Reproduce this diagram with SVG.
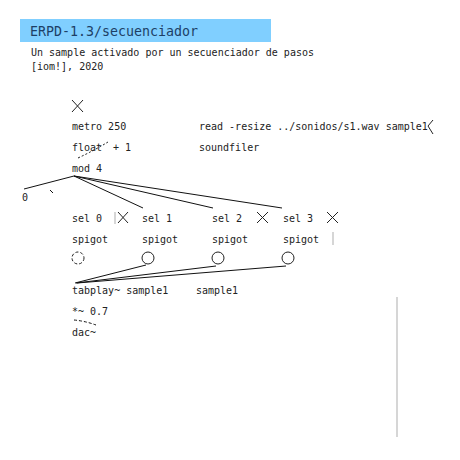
<svg xmlns="http://www.w3.org/2000/svg" width="460" height="460" viewBox="0 0 460 460">
<style>
text{font-family:"DejaVu Sans Mono","Liberation Mono",monospace;font-size:10px;fill:#222}
.t{font-size:13.3px;fill:#1d3f66}
.c{stroke:#111;stroke-width:1;fill:none}
.x{stroke:#222;stroke-width:1;fill:none}
.g{stroke:#c8c8c8;stroke-width:1.5;fill:none}
</style>
<rect width="460" height="460" fill="#fff"/>
<g id="title">
<rect x="20" y="19" width="251" height="23" fill="#80cfff"/>
<text class="t" x="30" y="36">ERPD-1.3/secuenciador</text>
</g>
<g id="comment">
<text x="31" y="56">Un sample activado por un secuenciador de pasos</text>
<text x="31" y="70">[iom!], 2020</text>
</g>
<g id="connectors">
<line class="c" x1="74" y1="176" x2="24" y2="189"/>
<line class="c" x1="50" y1="190" x2="53" y2="193"/>
<line class="c" x1="74" y1="176" x2="143" y2="208"/>
<line class="c" x1="74" y1="176" x2="213" y2="208"/>
<line class="c" x1="74" y1="176" x2="282" y2="208"/>
<line class="c" x1="146" y1="265" x2="75" y2="283"/>
<line class="c" x1="216" y1="266" x2="76" y2="283"/>
<line class="c" x1="286" y1="266" x2="77" y2="283"/>
<path class="c" d="M78 158 Q95 150 108 142" stroke-dasharray="2 2"/>
<path class="c" d="M74 320 Q85 321 96 325" stroke-dasharray="3 2"/>
</g>
<g id="bang1"><path class="x" d="M72 100 L83 112 M83 100 L72 112"/></g>
<g id="metro"><text x="72" y="130">metro 250</text></g>
<g id="read"><text x="199" y="130">read -resize ../sonidos/s1.wav sample1</text><path class="x" d="M433 120 L428 126 L433 134"/></g>
<g id="float"><text x="72" y="151">float</text></g>
<g id="plus"><text x="113" y="151">+ 1</text></g>
<g id="soundfiler"><text x="199" y="151">soundfiler</text></g>
<g id="mod"><text x="72" y="172">mod 4</text></g>
<g id="num"><text x="22" y="201">0</text></g>
<g id="sel0"><text x="72" y="222">sel 0</text></g>
<g id="tgl0"><line class="g" x1="115" y1="212" x2="115" y2="224"/><path class="x" d="M118 212 L128 223 M128 212 L118 223"/></g>
<g id="sel1"><text x="142" y="222">sel 1</text></g>
<g id="sel2"><text x="212" y="222">sel 2</text></g>
<g id="tgl2"><path class="x" d="M257 212 L268 223 M268 212 L257 223"/></g>
<g id="sel3"><text x="283" y="222">sel 3</text></g>
<g id="tgl3"><path class="x" d="M327 212 L338 223 M338 212 L327 223"/></g>
<g id="spigot0"><text x="72" y="243">spigot</text></g>
<g id="spigot1"><text x="142" y="243">spigot</text></g>
<g id="spigot2"><text x="212" y="243">spigot</text></g>
<g id="spigot3"><text x="283" y="243">spigot</text><line class="g" x1="333" y1="232" x2="333" y2="245"/></g>
<g id="bng0"><circle class="x" cx="78" cy="258" r="6" stroke-dasharray="3 2"/></g>
<g id="bng1"><circle class="x" cx="148" cy="258" r="6"/></g>
<g id="bng2"><circle class="x" cx="218" cy="258" r="6"/></g>
<g id="bng3"><circle class="x" cx="288" cy="258" r="6"/></g>
<g id="tabplay"><text x="72" y="294">tabplay~ sample1</text></g>
<g id="array"><text x="196" y="294">sample1</text><line class="g" x1="397" y1="297" x2="397" y2="437" stroke-width="1"/></g>
<g id="mul"><text x="72" y="315">*~ 0.7</text></g>
<g id="dac"><text x="72" y="336">dac~</text></g>
</svg>
